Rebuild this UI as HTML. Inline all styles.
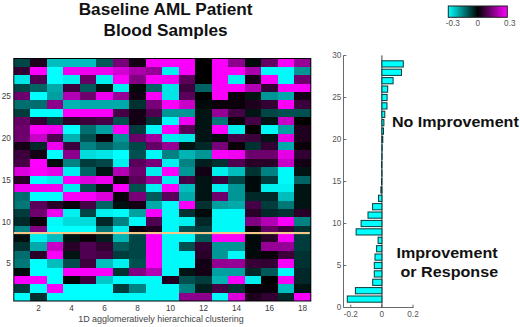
<!DOCTYPE html>
<html><head><meta charset="utf-8"><style>
html,body{margin:0;padding:0;background:#fff;width:520px;height:327px;overflow:hidden}
svg{display:block}
text{font-family:"Liberation Sans",sans-serif}
.tk{font-size:8.2px;fill:#3c3c3c}
.ti{font-size:17.2px;font-weight:bold;fill:#111}
.lb{font-size:15px;font-weight:bold;fill:#111}
.xl{font-size:8.95px;fill:#444}
</style></head><body>
<svg width="520" height="327" viewBox="0 0 520 327">
<defs><linearGradient id="cb" x1="0" x2="1" y1="0" y2="0">
<stop offset="0" stop-color="#00ffff"/><stop offset="0.5" stop-color="#000000"/><stop offset="1" stop-color="#ff00ff"/>
</linearGradient></defs>
<text x="165.6" y="15.2" text-anchor="middle" class="ti">Baseline AML Patient</text>
<text x="165.6" y="36.0" text-anchor="middle" class="ti">Blood Samples</text>
<g shape-rendering="crispEdges">
<rect x="13.80" y="58.50" width="16.55" height="8.41" fill="#004646"/><rect x="30.30" y="58.50" width="16.55" height="8.41" fill="#1e001e"/><rect x="46.80" y="58.50" width="16.55" height="8.41" fill="#00bebe"/><rect x="63.30" y="58.50" width="16.55" height="8.41" fill="#00bebe"/><rect x="79.80" y="58.50" width="16.55" height="8.41" fill="#00bebe"/><rect x="96.30" y="58.50" width="16.55" height="8.41" fill="#005a5a"/><rect x="112.80" y="58.50" width="16.55" height="8.41" fill="#780078"/><rect x="129.30" y="58.50" width="16.55" height="8.41" fill="#140014"/><rect x="145.80" y="58.50" width="16.55" height="8.41" fill="#fa00fa"/><rect x="162.30" y="58.50" width="16.55" height="8.41" fill="#fa00fa"/><rect x="178.80" y="58.50" width="16.55" height="8.41" fill="#fa00fa"/><rect x="195.30" y="58.50" width="16.55" height="8.41" fill="#000000"/><rect x="211.80" y="58.50" width="16.55" height="8.41" fill="#fa00fa"/><rect x="228.30" y="58.50" width="16.55" height="8.41" fill="#8c008c"/><rect x="244.80" y="58.50" width="16.55" height="8.41" fill="#000a0a"/><rect x="261.30" y="58.50" width="16.55" height="8.41" fill="#640064"/><rect x="277.80" y="58.50" width="16.55" height="8.41" fill="#fa00fa"/><rect x="294.30" y="58.50" width="16.55" height="8.41" fill="#960096"/><rect x="13.80" y="66.86" width="16.55" height="8.41" fill="#320032"/><rect x="30.30" y="66.86" width="16.55" height="8.41" fill="#ff00ff"/><rect x="46.80" y="66.86" width="16.55" height="8.41" fill="#00ffff"/><rect x="63.30" y="66.86" width="16.55" height="8.41" fill="#f000f0"/><rect x="79.80" y="66.86" width="16.55" height="8.41" fill="#f000f0"/><rect x="96.30" y="66.86" width="16.55" height="8.41" fill="#f000f0"/><rect x="112.80" y="66.86" width="16.55" height="8.41" fill="#d200d2"/><rect x="129.30" y="66.86" width="16.55" height="8.41" fill="#aa00aa"/><rect x="145.80" y="66.86" width="16.55" height="8.41" fill="#960096"/><rect x="162.30" y="66.86" width="16.55" height="8.41" fill="#00f0f0"/><rect x="178.80" y="66.86" width="16.55" height="8.41" fill="#fa00fa"/><rect x="195.30" y="66.86" width="16.55" height="8.41" fill="#000000"/><rect x="211.80" y="66.86" width="16.55" height="8.41" fill="#fa00fa"/><rect x="228.30" y="66.86" width="16.55" height="8.41" fill="#fa00fa"/><rect x="244.80" y="66.86" width="16.55" height="8.41" fill="#aa00aa"/><rect x="261.30" y="66.86" width="16.55" height="8.41" fill="#00fafa"/><rect x="277.80" y="66.86" width="16.55" height="8.41" fill="#00fafa"/><rect x="294.30" y="66.86" width="16.55" height="8.41" fill="#009696"/><rect x="13.80" y="75.22" width="16.55" height="8.41" fill="#00e6e6"/><rect x="30.30" y="75.22" width="16.55" height="8.41" fill="#500050"/><rect x="46.80" y="75.22" width="16.55" height="8.41" fill="#00ffff"/><rect x="63.30" y="75.22" width="16.55" height="8.41" fill="#00f0f0"/><rect x="79.80" y="75.22" width="16.55" height="8.41" fill="#640064"/><rect x="96.30" y="75.22" width="16.55" height="8.41" fill="#00f0f0"/><rect x="112.80" y="75.22" width="16.55" height="8.41" fill="#fa00fa"/><rect x="129.30" y="75.22" width="16.55" height="8.41" fill="#820082"/><rect x="145.80" y="75.22" width="16.55" height="8.41" fill="#fa00fa"/><rect x="162.30" y="75.22" width="16.55" height="8.41" fill="#f000f0"/><rect x="178.80" y="75.22" width="16.55" height="8.41" fill="#5a005a"/><rect x="195.30" y="75.22" width="16.55" height="8.41" fill="#000000"/><rect x="211.80" y="75.22" width="16.55" height="8.41" fill="#fa00fa"/><rect x="228.30" y="75.22" width="16.55" height="8.41" fill="#00f0f0"/><rect x="244.80" y="75.22" width="16.55" height="8.41" fill="#140014"/><rect x="261.30" y="75.22" width="16.55" height="8.41" fill="#fa00fa"/><rect x="277.80" y="75.22" width="16.55" height="8.41" fill="#00fafa"/><rect x="294.30" y="75.22" width="16.55" height="8.41" fill="#6e006e"/><rect x="13.80" y="83.59" width="16.55" height="8.41" fill="#004646"/><rect x="30.30" y="83.59" width="16.55" height="8.41" fill="#006464"/><rect x="46.80" y="83.59" width="16.55" height="8.41" fill="#00aaaa"/><rect x="63.30" y="83.59" width="16.55" height="8.41" fill="#3c003c"/><rect x="79.80" y="83.59" width="16.55" height="8.41" fill="#005a5a"/><rect x="96.30" y="83.59" width="16.55" height="8.41" fill="#001414"/><rect x="112.80" y="83.59" width="16.55" height="8.41" fill="#00f0f0"/><rect x="129.30" y="83.59" width="16.55" height="8.41" fill="#000a0a"/><rect x="145.80" y="83.59" width="16.55" height="8.41" fill="#006464"/><rect x="162.30" y="83.59" width="16.55" height="8.41" fill="#00e6e6"/><rect x="178.80" y="83.59" width="16.55" height="8.41" fill="#3c003c"/><rect x="195.30" y="83.59" width="16.55" height="8.41" fill="#006464"/><rect x="211.80" y="83.59" width="16.55" height="8.41" fill="#fa00fa"/><rect x="228.30" y="83.59" width="16.55" height="8.41" fill="#fa00fa"/><rect x="244.80" y="83.59" width="16.55" height="8.41" fill="#b400b4"/><rect x="261.30" y="83.59" width="16.55" height="8.41" fill="#320032"/><rect x="277.80" y="83.59" width="16.55" height="8.41" fill="#fa00fa"/><rect x="294.30" y="83.59" width="16.55" height="8.41" fill="#fa00fa"/><rect x="13.80" y="91.95" width="16.55" height="8.41" fill="#6e006e"/><rect x="30.30" y="91.95" width="16.55" height="8.41" fill="#00ffff"/><rect x="46.80" y="91.95" width="16.55" height="8.41" fill="#00a0a0"/><rect x="63.30" y="91.95" width="16.55" height="8.41" fill="#b400b4"/><rect x="79.80" y="91.95" width="16.55" height="8.41" fill="#6e006e"/><rect x="96.30" y="91.95" width="16.55" height="8.41" fill="#f000f0"/><rect x="112.80" y="91.95" width="16.55" height="8.41" fill="#960096"/><rect x="129.30" y="91.95" width="16.55" height="8.41" fill="#140014"/><rect x="145.80" y="91.95" width="16.55" height="8.41" fill="#fa00fa"/><rect x="162.30" y="91.95" width="16.55" height="8.41" fill="#00e6e6"/><rect x="178.80" y="91.95" width="16.55" height="8.41" fill="#5a005a"/><rect x="195.30" y="91.95" width="16.55" height="8.41" fill="#000000"/><rect x="211.80" y="91.95" width="16.55" height="8.41" fill="#fa00fa"/><rect x="228.30" y="91.95" width="16.55" height="8.41" fill="#0a000a"/><rect x="244.80" y="91.95" width="16.55" height="8.41" fill="#001414"/><rect x="261.30" y="91.95" width="16.55" height="8.41" fill="#009696"/><rect x="277.80" y="91.95" width="16.55" height="8.41" fill="#00aaaa"/><rect x="294.30" y="91.95" width="16.55" height="8.41" fill="#140014"/><rect x="13.80" y="100.31" width="16.55" height="8.41" fill="#006e6e"/><rect x="30.30" y="100.31" width="16.55" height="8.41" fill="#006e6e"/><rect x="46.80" y="100.31" width="16.55" height="8.41" fill="#8c008c"/><rect x="63.30" y="100.31" width="16.55" height="8.41" fill="#00b4b4"/><rect x="79.80" y="100.31" width="16.55" height="8.41" fill="#00aaaa"/><rect x="96.30" y="100.31" width="16.55" height="8.41" fill="#00aaaa"/><rect x="112.80" y="100.31" width="16.55" height="8.41" fill="#00aaaa"/><rect x="129.30" y="100.31" width="16.55" height="8.41" fill="#003232"/><rect x="145.80" y="100.31" width="16.55" height="8.41" fill="#780078"/><rect x="162.30" y="100.31" width="16.55" height="8.41" fill="#fa00fa"/><rect x="178.80" y="100.31" width="16.55" height="8.41" fill="#c800c8"/><rect x="195.30" y="100.31" width="16.55" height="8.41" fill="#000a0a"/><rect x="211.80" y="100.31" width="16.55" height="8.41" fill="#0a000a"/><rect x="228.30" y="100.31" width="16.55" height="8.41" fill="#0a000a"/><rect x="244.80" y="100.31" width="16.55" height="8.41" fill="#1e001e"/><rect x="261.30" y="100.31" width="16.55" height="8.41" fill="#320032"/><rect x="277.80" y="100.31" width="16.55" height="8.41" fill="#fa00fa"/><rect x="294.30" y="100.31" width="16.55" height="8.41" fill="#3c003c"/><rect x="13.80" y="108.67" width="16.55" height="8.41" fill="#003c3c"/><rect x="30.30" y="108.67" width="16.55" height="8.41" fill="#00ffff"/><rect x="46.80" y="108.67" width="16.55" height="8.41" fill="#00ffff"/><rect x="63.30" y="108.67" width="16.55" height="8.41" fill="#fa00fa"/><rect x="79.80" y="108.67" width="16.55" height="8.41" fill="#fa00fa"/><rect x="96.30" y="108.67" width="16.55" height="8.41" fill="#fa00fa"/><rect x="112.80" y="108.67" width="16.55" height="8.41" fill="#460046"/><rect x="129.30" y="108.67" width="16.55" height="8.41" fill="#140014"/><rect x="145.80" y="108.67" width="16.55" height="8.41" fill="#500050"/><rect x="162.30" y="108.67" width="16.55" height="8.41" fill="#009696"/><rect x="178.80" y="108.67" width="16.55" height="8.41" fill="#009696"/><rect x="195.30" y="108.67" width="16.55" height="8.41" fill="#001414"/><rect x="211.80" y="108.67" width="16.55" height="8.41" fill="#960096"/><rect x="228.30" y="108.67" width="16.55" height="8.41" fill="#460046"/><rect x="244.80" y="108.67" width="16.55" height="8.41" fill="#001414"/><rect x="261.30" y="108.67" width="16.55" height="8.41" fill="#004646"/><rect x="277.80" y="108.67" width="16.55" height="8.41" fill="#005050"/><rect x="294.30" y="108.67" width="16.55" height="8.41" fill="#005050"/><rect x="13.80" y="117.03" width="16.55" height="8.41" fill="#640064"/><rect x="30.30" y="117.03" width="16.55" height="8.41" fill="#320032"/><rect x="46.80" y="117.03" width="16.55" height="8.41" fill="#003c3c"/><rect x="63.30" y="117.03" width="16.55" height="8.41" fill="#280028"/><rect x="79.80" y="117.03" width="16.55" height="8.41" fill="#3c003c"/><rect x="96.30" y="117.03" width="16.55" height="8.41" fill="#460046"/><rect x="112.80" y="117.03" width="16.55" height="8.41" fill="#005050"/><rect x="129.30" y="117.03" width="16.55" height="8.41" fill="#140014"/><rect x="145.80" y="117.03" width="16.55" height="8.41" fill="#003232"/><rect x="162.30" y="117.03" width="16.55" height="8.41" fill="#00fafa"/><rect x="178.80" y="117.03" width="16.55" height="8.41" fill="#f000f0"/><rect x="195.30" y="117.03" width="16.55" height="8.41" fill="#001414"/><rect x="211.80" y="117.03" width="16.55" height="8.41" fill="#007878"/><rect x="228.30" y="117.03" width="16.55" height="8.41" fill="#0a000a"/><rect x="244.80" y="117.03" width="16.55" height="8.41" fill="#460046"/><rect x="261.30" y="117.03" width="16.55" height="8.41" fill="#001414"/><rect x="277.80" y="117.03" width="16.55" height="8.41" fill="#c800c8"/><rect x="294.30" y="117.03" width="16.55" height="8.41" fill="#000000"/><rect x="13.80" y="125.40" width="16.55" height="8.41" fill="#6e006e"/><rect x="30.30" y="125.40" width="16.55" height="8.41" fill="#fa00fa"/><rect x="46.80" y="125.40" width="16.55" height="8.41" fill="#f000f0"/><rect x="63.30" y="125.40" width="16.55" height="8.41" fill="#00ffff"/><rect x="79.80" y="125.40" width="16.55" height="8.41" fill="#006e6e"/><rect x="96.30" y="125.40" width="16.55" height="8.41" fill="#00a0a0"/><rect x="112.80" y="125.40" width="16.55" height="8.41" fill="#fa00fa"/><rect x="129.30" y="125.40" width="16.55" height="8.41" fill="#003c3c"/><rect x="145.80" y="125.40" width="16.55" height="8.41" fill="#00fafa"/><rect x="162.30" y="125.40" width="16.55" height="8.41" fill="#fa00fa"/><rect x="178.80" y="125.40" width="16.55" height="8.41" fill="#5a005a"/><rect x="195.30" y="125.40" width="16.55" height="8.41" fill="#001414"/><rect x="211.80" y="125.40" width="16.55" height="8.41" fill="#fa00fa"/><rect x="228.30" y="125.40" width="16.55" height="8.41" fill="#00f0f0"/><rect x="244.80" y="125.40" width="16.55" height="8.41" fill="#000000"/><rect x="261.30" y="125.40" width="16.55" height="8.41" fill="#00fafa"/><rect x="277.80" y="125.40" width="16.55" height="8.41" fill="#00a0a0"/><rect x="294.30" y="125.40" width="16.55" height="8.41" fill="#1e001e"/><rect x="13.80" y="133.76" width="16.55" height="8.41" fill="#6e006e"/><rect x="30.30" y="133.76" width="16.55" height="8.41" fill="#c800c8"/><rect x="46.80" y="133.76" width="16.55" height="8.41" fill="#500050"/><rect x="63.30" y="133.76" width="16.55" height="8.41" fill="#00b4b4"/><rect x="79.80" y="133.76" width="16.55" height="8.41" fill="#005050"/><rect x="96.30" y="133.76" width="16.55" height="8.41" fill="#0a000a"/><rect x="112.80" y="133.76" width="16.55" height="8.41" fill="#009696"/><rect x="129.30" y="133.76" width="16.55" height="8.41" fill="#6e006e"/><rect x="145.80" y="133.76" width="16.55" height="8.41" fill="#a000a0"/><rect x="162.30" y="133.76" width="16.55" height="8.41" fill="#00f0f0"/><rect x="178.80" y="133.76" width="16.55" height="8.41" fill="#00e6e6"/><rect x="195.30" y="133.76" width="16.55" height="8.41" fill="#001414"/><rect x="211.80" y="133.76" width="16.55" height="8.41" fill="#000a0a"/><rect x="228.30" y="133.76" width="16.55" height="8.41" fill="#460046"/><rect x="244.80" y="133.76" width="16.55" height="8.41" fill="#3c003c"/><rect x="261.30" y="133.76" width="16.55" height="8.41" fill="#001414"/><rect x="277.80" y="133.76" width="16.55" height="8.41" fill="#e600e6"/><rect x="294.30" y="133.76" width="16.55" height="8.41" fill="#1e001e"/><rect x="13.80" y="142.12" width="16.55" height="8.41" fill="#140014"/><rect x="30.30" y="142.12" width="16.55" height="8.41" fill="#002828"/><rect x="46.80" y="142.12" width="16.55" height="8.41" fill="#f000f0"/><rect x="63.30" y="142.12" width="16.55" height="8.41" fill="#3c003c"/><rect x="79.80" y="142.12" width="16.55" height="8.41" fill="#008282"/><rect x="96.30" y="142.12" width="16.55" height="8.41" fill="#006464"/><rect x="112.80" y="142.12" width="16.55" height="8.41" fill="#008282"/><rect x="129.30" y="142.12" width="16.55" height="8.41" fill="#004646"/><rect x="145.80" y="142.12" width="16.55" height="8.41" fill="#640064"/><rect x="162.30" y="142.12" width="16.55" height="8.41" fill="#960096"/><rect x="178.80" y="142.12" width="16.55" height="8.41" fill="#001414"/><rect x="195.30" y="142.12" width="16.55" height="8.41" fill="#002828"/><rect x="211.80" y="142.12" width="16.55" height="8.41" fill="#780078"/><rect x="228.30" y="142.12" width="16.55" height="8.41" fill="#0a000a"/><rect x="244.80" y="142.12" width="16.55" height="8.41" fill="#003232"/><rect x="261.30" y="142.12" width="16.55" height="8.41" fill="#320032"/><rect x="277.80" y="142.12" width="16.55" height="8.41" fill="#00aaaa"/><rect x="294.30" y="142.12" width="16.55" height="8.41" fill="#0a000a"/><rect x="13.80" y="150.48" width="16.55" height="8.41" fill="#3c003c"/><rect x="30.30" y="150.48" width="16.55" height="8.41" fill="#140014"/><rect x="46.80" y="150.48" width="16.55" height="8.41" fill="#00ffff"/><rect x="63.30" y="150.48" width="16.55" height="8.41" fill="#8c008c"/><rect x="79.80" y="150.48" width="16.55" height="8.41" fill="#00dcdc"/><rect x="96.30" y="150.48" width="16.55" height="8.41" fill="#00e6e6"/><rect x="112.80" y="150.48" width="16.55" height="8.41" fill="#00ffff"/><rect x="129.30" y="150.48" width="16.55" height="8.41" fill="#005050"/><rect x="145.80" y="150.48" width="16.55" height="8.41" fill="#00fafa"/><rect x="162.30" y="150.48" width="16.55" height="8.41" fill="#008282"/><rect x="178.80" y="150.48" width="16.55" height="8.41" fill="#00b4b4"/><rect x="195.30" y="150.48" width="16.55" height="8.41" fill="#009696"/><rect x="211.80" y="150.48" width="16.55" height="8.41" fill="#fa00fa"/><rect x="228.30" y="150.48" width="16.55" height="8.41" fill="#f000f0"/><rect x="244.80" y="150.48" width="16.55" height="8.41" fill="#6e006e"/><rect x="261.30" y="150.48" width="16.55" height="8.41" fill="#6e006e"/><rect x="277.80" y="150.48" width="16.55" height="8.41" fill="#e600e6"/><rect x="294.30" y="150.48" width="16.55" height="8.41" fill="#320032"/><rect x="13.80" y="158.84" width="16.55" height="8.41" fill="#460046"/><rect x="30.30" y="158.84" width="16.55" height="8.41" fill="#ff00ff"/><rect x="46.80" y="158.84" width="16.55" height="8.41" fill="#000a0a"/><rect x="63.30" y="158.84" width="16.55" height="8.41" fill="#008282"/><rect x="79.80" y="158.84" width="16.55" height="8.41" fill="#003c3c"/><rect x="96.30" y="158.84" width="16.55" height="8.41" fill="#004646"/><rect x="112.80" y="158.84" width="16.55" height="8.41" fill="#00f0f0"/><rect x="129.30" y="158.84" width="16.55" height="8.41" fill="#5a005a"/><rect x="145.80" y="158.84" width="16.55" height="8.41" fill="#780078"/><rect x="162.30" y="158.84" width="16.55" height="8.41" fill="#00f0f0"/><rect x="178.80" y="158.84" width="16.55" height="8.41" fill="#008282"/><rect x="195.30" y="158.84" width="16.55" height="8.41" fill="#001e1e"/><rect x="211.80" y="158.84" width="16.55" height="8.41" fill="#003232"/><rect x="228.30" y="158.84" width="16.55" height="8.41" fill="#500050"/><rect x="244.80" y="158.84" width="16.55" height="8.41" fill="#280028"/><rect x="261.30" y="158.84" width="16.55" height="8.41" fill="#280028"/><rect x="277.80" y="158.84" width="16.55" height="8.41" fill="#c800c8"/><rect x="294.30" y="158.84" width="16.55" height="8.41" fill="#140014"/><rect x="13.80" y="167.21" width="16.55" height="8.41" fill="#dc00dc"/><rect x="30.30" y="167.21" width="16.55" height="8.41" fill="#fa00fa"/><rect x="46.80" y="167.21" width="16.55" height="8.41" fill="#e600e6"/><rect x="63.30" y="167.21" width="16.55" height="8.41" fill="#00f0f0"/><rect x="79.80" y="167.21" width="16.55" height="8.41" fill="#006464"/><rect x="96.30" y="167.21" width="16.55" height="8.41" fill="#001414"/><rect x="112.80" y="167.21" width="16.55" height="8.41" fill="#b400b4"/><rect x="129.30" y="167.21" width="16.55" height="8.41" fill="#6e006e"/><rect x="145.80" y="167.21" width="16.55" height="8.41" fill="#00f0f0"/><rect x="162.30" y="167.21" width="16.55" height="8.41" fill="#fa00fa"/><rect x="178.80" y="167.21" width="16.55" height="8.41" fill="#009696"/><rect x="195.30" y="167.21" width="16.55" height="8.41" fill="#140014"/><rect x="211.80" y="167.21" width="16.55" height="8.41" fill="#00f0f0"/><rect x="228.30" y="167.21" width="16.55" height="8.41" fill="#00bebe"/><rect x="244.80" y="167.21" width="16.55" height="8.41" fill="#003232"/><rect x="261.30" y="167.21" width="16.55" height="8.41" fill="#008282"/><rect x="277.80" y="167.21" width="16.55" height="8.41" fill="#00fafa"/><rect x="294.30" y="167.21" width="16.55" height="8.41" fill="#001414"/><rect x="13.80" y="175.57" width="16.55" height="8.41" fill="#280028"/><rect x="30.30" y="175.57" width="16.55" height="8.41" fill="#00ffff"/><rect x="46.80" y="175.57" width="16.55" height="8.41" fill="#00f0f0"/><rect x="63.30" y="175.57" width="16.55" height="8.41" fill="#fa00fa"/><rect x="79.80" y="175.57" width="16.55" height="8.41" fill="#dc00dc"/><rect x="96.30" y="175.57" width="16.55" height="8.41" fill="#f000f0"/><rect x="112.80" y="175.57" width="16.55" height="8.41" fill="#0a000a"/><rect x="129.30" y="175.57" width="16.55" height="8.41" fill="#5a005a"/><rect x="145.80" y="175.57" width="16.55" height="8.41" fill="#960096"/><rect x="162.30" y="175.57" width="16.55" height="8.41" fill="#00f0f0"/><rect x="178.80" y="175.57" width="16.55" height="8.41" fill="#460046"/><rect x="195.30" y="175.57" width="16.55" height="8.41" fill="#001414"/><rect x="211.80" y="175.57" width="16.55" height="8.41" fill="#3c003c"/><rect x="228.30" y="175.57" width="16.55" height="8.41" fill="#004646"/><rect x="244.80" y="175.57" width="16.55" height="8.41" fill="#000a0a"/><rect x="261.30" y="175.57" width="16.55" height="8.41" fill="#003c3c"/><rect x="277.80" y="175.57" width="16.55" height="8.41" fill="#00fafa"/><rect x="294.30" y="175.57" width="16.55" height="8.41" fill="#006464"/><rect x="13.80" y="183.93" width="16.55" height="8.41" fill="#f000f0"/><rect x="30.30" y="183.93" width="16.55" height="8.41" fill="#f000f0"/><rect x="46.80" y="183.93" width="16.55" height="8.41" fill="#f000f0"/><rect x="63.30" y="183.93" width="16.55" height="8.41" fill="#00f0f0"/><rect x="79.80" y="183.93" width="16.55" height="8.41" fill="#005050"/><rect x="96.30" y="183.93" width="16.55" height="8.41" fill="#001414"/><rect x="112.80" y="183.93" width="16.55" height="8.41" fill="#fa00fa"/><rect x="129.30" y="183.93" width="16.55" height="8.41" fill="#005050"/><rect x="145.80" y="183.93" width="16.55" height="8.41" fill="#00f0f0"/><rect x="162.30" y="183.93" width="16.55" height="8.41" fill="#fa00fa"/><rect x="178.80" y="183.93" width="16.55" height="8.41" fill="#00bebe"/><rect x="195.30" y="183.93" width="16.55" height="8.41" fill="#001414"/><rect x="211.80" y="183.93" width="16.55" height="8.41" fill="#00f0f0"/><rect x="228.30" y="183.93" width="16.55" height="8.41" fill="#009696"/><rect x="244.80" y="183.93" width="16.55" height="8.41" fill="#000a0a"/><rect x="261.30" y="183.93" width="16.55" height="8.41" fill="#00f0f0"/><rect x="277.80" y="183.93" width="16.55" height="8.41" fill="#00f0f0"/><rect x="294.30" y="183.93" width="16.55" height="8.41" fill="#001414"/><rect x="13.80" y="192.29" width="16.55" height="8.41" fill="#006e6e"/><rect x="30.30" y="192.29" width="16.55" height="8.41" fill="#00ffff"/><rect x="46.80" y="192.29" width="16.55" height="8.41" fill="#00ffff"/><rect x="63.30" y="192.29" width="16.55" height="8.41" fill="#fa00fa"/><rect x="79.80" y="192.29" width="16.55" height="8.41" fill="#fa00fa"/><rect x="96.30" y="192.29" width="16.55" height="8.41" fill="#dc00dc"/><rect x="112.80" y="192.29" width="16.55" height="8.41" fill="#0a000a"/><rect x="129.30" y="192.29" width="16.55" height="8.41" fill="#780078"/><rect x="145.80" y="192.29" width="16.55" height="8.41" fill="#005a5a"/><rect x="162.30" y="192.29" width="16.55" height="8.41" fill="#5a005a"/><rect x="178.80" y="192.29" width="16.55" height="8.41" fill="#00aaaa"/><rect x="195.30" y="192.29" width="16.55" height="8.41" fill="#001414"/><rect x="211.80" y="192.29" width="16.55" height="8.41" fill="#6e006e"/><rect x="228.30" y="192.29" width="16.55" height="8.41" fill="#009696"/><rect x="244.80" y="192.29" width="16.55" height="8.41" fill="#002828"/><rect x="261.30" y="192.29" width="16.55" height="8.41" fill="#002828"/><rect x="277.80" y="192.29" width="16.55" height="8.41" fill="#00bebe"/><rect x="294.30" y="192.29" width="16.55" height="8.41" fill="#001414"/><rect x="13.80" y="200.66" width="16.55" height="8.41" fill="#007878"/><rect x="30.30" y="200.66" width="16.55" height="8.41" fill="#5a005a"/><rect x="46.80" y="200.66" width="16.55" height="8.41" fill="#280028"/><rect x="63.30" y="200.66" width="16.55" height="8.41" fill="#0a000a"/><rect x="79.80" y="200.66" width="16.55" height="8.41" fill="#460046"/><rect x="96.30" y="200.66" width="16.55" height="8.41" fill="#006464"/><rect x="112.80" y="200.66" width="16.55" height="8.41" fill="#000f0f"/><rect x="129.30" y="200.66" width="16.55" height="8.41" fill="#140014"/><rect x="145.80" y="200.66" width="16.55" height="8.41" fill="#00aaaa"/><rect x="162.30" y="200.66" width="16.55" height="8.41" fill="#00fafa"/><rect x="178.80" y="200.66" width="16.55" height="8.41" fill="#fa00fa"/><rect x="195.30" y="200.66" width="16.55" height="8.41" fill="#003232"/><rect x="211.80" y="200.66" width="16.55" height="8.41" fill="#00a0a0"/><rect x="228.30" y="200.66" width="16.55" height="8.41" fill="#00aaaa"/><rect x="244.80" y="200.66" width="16.55" height="8.41" fill="#460046"/><rect x="261.30" y="200.66" width="16.55" height="8.41" fill="#003c3c"/><rect x="277.80" y="200.66" width="16.55" height="8.41" fill="#007878"/><rect x="294.30" y="200.66" width="16.55" height="8.41" fill="#001414"/><rect x="13.80" y="209.02" width="16.55" height="8.41" fill="#003c3c"/><rect x="30.30" y="209.02" width="16.55" height="8.41" fill="#6e006e"/><rect x="46.80" y="209.02" width="16.55" height="8.41" fill="#f000f0"/><rect x="63.30" y="209.02" width="16.55" height="8.41" fill="#00f0f0"/><rect x="79.80" y="209.02" width="16.55" height="8.41" fill="#004646"/><rect x="96.30" y="209.02" width="16.55" height="8.41" fill="#00f0f0"/><rect x="112.80" y="209.02" width="16.55" height="8.41" fill="#00fafa"/><rect x="129.30" y="209.02" width="16.55" height="8.41" fill="#00a0a0"/><rect x="145.80" y="209.02" width="16.55" height="8.41" fill="#fa00fa"/><rect x="162.30" y="209.02" width="16.55" height="8.41" fill="#00fafa"/><rect x="178.80" y="209.02" width="16.55" height="8.41" fill="#003232"/><rect x="195.30" y="209.02" width="16.55" height="8.41" fill="#000a0a"/><rect x="211.80" y="209.02" width="16.55" height="8.41" fill="#00fafa"/><rect x="228.30" y="209.02" width="16.55" height="8.41" fill="#00fafa"/><rect x="244.80" y="209.02" width="16.55" height="8.41" fill="#280028"/><rect x="261.30" y="209.02" width="16.55" height="8.41" fill="#002828"/><rect x="277.80" y="209.02" width="16.55" height="8.41" fill="#003232"/><rect x="294.30" y="209.02" width="16.55" height="8.41" fill="#280028"/><rect x="13.80" y="217.38" width="16.55" height="8.41" fill="#002828"/><rect x="30.30" y="217.38" width="16.55" height="8.41" fill="#0a000a"/><rect x="46.80" y="217.38" width="16.55" height="8.41" fill="#00fafa"/><rect x="63.30" y="217.38" width="16.55" height="8.41" fill="#00dcdc"/><rect x="79.80" y="217.38" width="16.55" height="8.41" fill="#00dcdc"/><rect x="96.30" y="217.38" width="16.55" height="8.41" fill="#002828"/><rect x="112.80" y="217.38" width="16.55" height="8.41" fill="#008282"/><rect x="129.30" y="217.38" width="16.55" height="8.41" fill="#00fafa"/><rect x="145.80" y="217.38" width="16.55" height="8.41" fill="#500050"/><rect x="162.30" y="217.38" width="16.55" height="8.41" fill="#00fafa"/><rect x="178.80" y="217.38" width="16.55" height="8.41" fill="#00f0f0"/><rect x="195.30" y="217.38" width="16.55" height="8.41" fill="#002828"/><rect x="211.80" y="217.38" width="16.55" height="8.41" fill="#00fafa"/><rect x="228.30" y="217.38" width="16.55" height="8.41" fill="#00fafa"/><rect x="244.80" y="217.38" width="16.55" height="8.41" fill="#820082"/><rect x="261.30" y="217.38" width="16.55" height="8.41" fill="#b400b4"/><rect x="277.80" y="217.38" width="16.55" height="8.41" fill="#fa00fa"/><rect x="294.30" y="217.38" width="16.55" height="8.41" fill="#008282"/><rect x="13.80" y="225.74" width="16.55" height="8.41" fill="#008282"/><rect x="30.30" y="225.74" width="16.55" height="8.41" fill="#820082"/><rect x="46.80" y="225.74" width="16.55" height="8.41" fill="#00ffff"/><rect x="63.30" y="225.74" width="16.55" height="8.41" fill="#00ffff"/><rect x="79.80" y="225.74" width="16.55" height="8.41" fill="#00ffff"/><rect x="96.30" y="225.74" width="16.55" height="8.41" fill="#007878"/><rect x="112.80" y="225.74" width="16.55" height="8.41" fill="#00f0f0"/><rect x="129.30" y="225.74" width="16.55" height="8.41" fill="#0a000a"/><rect x="145.80" y="225.74" width="16.55" height="8.41" fill="#1e001e"/><rect x="162.30" y="225.74" width="16.55" height="8.41" fill="#00fafa"/><rect x="178.80" y="225.74" width="16.55" height="8.41" fill="#005050"/><rect x="195.30" y="225.74" width="16.55" height="8.41" fill="#003c3c"/><rect x="211.80" y="225.74" width="16.55" height="8.41" fill="#00fafa"/><rect x="228.30" y="225.74" width="16.55" height="8.41" fill="#00fafa"/><rect x="244.80" y="225.74" width="16.55" height="8.41" fill="#0a000a"/><rect x="261.30" y="225.74" width="16.55" height="8.41" fill="#640064"/><rect x="277.80" y="225.74" width="16.55" height="8.41" fill="#3c003c"/><rect x="294.30" y="225.74" width="16.55" height="8.41" fill="#003232"/><rect x="13.80" y="234.10" width="16.55" height="8.41" fill="#000f0f"/><rect x="30.30" y="234.10" width="16.55" height="8.41" fill="#00f0f0"/><rect x="46.80" y="234.10" width="16.55" height="8.41" fill="#00bebe"/><rect x="63.30" y="234.10" width="16.55" height="8.41" fill="#001414"/><rect x="79.80" y="234.10" width="16.55" height="8.41" fill="#0a000a"/><rect x="96.30" y="234.10" width="16.55" height="8.41" fill="#001e1e"/><rect x="112.80" y="234.10" width="16.55" height="8.41" fill="#00b4b4"/><rect x="129.30" y="234.10" width="16.55" height="8.41" fill="#004646"/><rect x="145.80" y="234.10" width="16.55" height="8.41" fill="#fa00fa"/><rect x="162.30" y="234.10" width="16.55" height="8.41" fill="#00fafa"/><rect x="178.80" y="234.10" width="16.55" height="8.41" fill="#00fafa"/><rect x="195.30" y="234.10" width="16.55" height="8.41" fill="#005a5a"/><rect x="211.80" y="234.10" width="16.55" height="8.41" fill="#fa00fa"/><rect x="228.30" y="234.10" width="16.55" height="8.41" fill="#fa00fa"/><rect x="244.80" y="234.10" width="16.55" height="8.41" fill="#000a0a"/><rect x="261.30" y="234.10" width="16.55" height="8.41" fill="#280028"/><rect x="277.80" y="234.10" width="16.55" height="8.41" fill="#fa00fa"/><rect x="294.30" y="234.10" width="16.55" height="8.41" fill="#003c3c"/><rect x="13.80" y="242.47" width="16.55" height="8.41" fill="#003232"/><rect x="30.30" y="242.47" width="16.55" height="8.41" fill="#00aaaa"/><rect x="46.80" y="242.47" width="16.55" height="8.41" fill="#c800c8"/><rect x="63.30" y="242.47" width="16.55" height="8.41" fill="#280028"/><rect x="79.80" y="242.47" width="16.55" height="8.41" fill="#500050"/><rect x="96.30" y="242.47" width="16.55" height="8.41" fill="#320032"/><rect x="112.80" y="242.47" width="16.55" height="8.41" fill="#005a5a"/><rect x="129.30" y="242.47" width="16.55" height="8.41" fill="#004646"/><rect x="145.80" y="242.47" width="16.55" height="8.41" fill="#fa00fa"/><rect x="162.30" y="242.47" width="16.55" height="8.41" fill="#00fafa"/><rect x="178.80" y="242.47" width="16.55" height="8.41" fill="#005050"/><rect x="195.30" y="242.47" width="16.55" height="8.41" fill="#320032"/><rect x="211.80" y="242.47" width="16.55" height="8.41" fill="#009696"/><rect x="228.30" y="242.47" width="16.55" height="8.41" fill="#009696"/><rect x="244.80" y="242.47" width="16.55" height="8.41" fill="#000a0a"/><rect x="261.30" y="242.47" width="16.55" height="8.41" fill="#960096"/><rect x="277.80" y="242.47" width="16.55" height="8.41" fill="#960096"/><rect x="294.30" y="242.47" width="16.55" height="8.41" fill="#003c3c"/><rect x="13.80" y="250.83" width="16.55" height="8.41" fill="#006e6e"/><rect x="30.30" y="250.83" width="16.55" height="8.41" fill="#280028"/><rect x="46.80" y="250.83" width="16.55" height="8.41" fill="#fa00fa"/><rect x="63.30" y="250.83" width="16.55" height="8.41" fill="#001414"/><rect x="79.80" y="250.83" width="16.55" height="8.41" fill="#500050"/><rect x="96.30" y="250.83" width="16.55" height="8.41" fill="#460046"/><rect x="112.80" y="250.83" width="16.55" height="8.41" fill="#003c3c"/><rect x="129.30" y="250.83" width="16.55" height="8.41" fill="#004646"/><rect x="145.80" y="250.83" width="16.55" height="8.41" fill="#fa00fa"/><rect x="162.30" y="250.83" width="16.55" height="8.41" fill="#00fafa"/><rect x="178.80" y="250.83" width="16.55" height="8.41" fill="#00fafa"/><rect x="195.30" y="250.83" width="16.55" height="8.41" fill="#280028"/><rect x="211.80" y="250.83" width="16.55" height="8.41" fill="#009696"/><rect x="228.30" y="250.83" width="16.55" height="8.41" fill="#00fafa"/><rect x="244.80" y="250.83" width="16.55" height="8.41" fill="#000a0a"/><rect x="261.30" y="250.83" width="16.55" height="8.41" fill="#0a000a"/><rect x="277.80" y="250.83" width="16.55" height="8.41" fill="#3c003c"/><rect x="294.30" y="250.83" width="16.55" height="8.41" fill="#003232"/><rect x="13.80" y="259.19" width="16.55" height="8.41" fill="#007878"/><rect x="30.30" y="259.19" width="16.55" height="8.41" fill="#00ffff"/><rect x="46.80" y="259.19" width="16.55" height="8.41" fill="#00bebe"/><rect x="63.30" y="259.19" width="16.55" height="8.41" fill="#004b4b"/><rect x="79.80" y="259.19" width="16.55" height="8.41" fill="#3c003c"/><rect x="96.30" y="259.19" width="16.55" height="8.41" fill="#00bebe"/><rect x="112.80" y="259.19" width="16.55" height="8.41" fill="#00f0f0"/><rect x="129.30" y="259.19" width="16.55" height="8.41" fill="#005050"/><rect x="145.80" y="259.19" width="16.55" height="8.41" fill="#fa00fa"/><rect x="162.30" y="259.19" width="16.55" height="8.41" fill="#00fafa"/><rect x="178.80" y="259.19" width="16.55" height="8.41" fill="#00fafa"/><rect x="195.30" y="259.19" width="16.55" height="8.41" fill="#140014"/><rect x="211.80" y="259.19" width="16.55" height="8.41" fill="#910091"/><rect x="228.30" y="259.19" width="16.55" height="8.41" fill="#960096"/><rect x="244.80" y="259.19" width="16.55" height="8.41" fill="#370037"/><rect x="261.30" y="259.19" width="16.55" height="8.41" fill="#320032"/><rect x="277.80" y="259.19" width="16.55" height="8.41" fill="#fa00fa"/><rect x="294.30" y="259.19" width="16.55" height="8.41" fill="#003232"/><rect x="13.80" y="267.55" width="16.55" height="8.41" fill="#000a0a"/><rect x="30.30" y="267.55" width="16.55" height="8.41" fill="#00ffff"/><rect x="46.80" y="267.55" width="16.55" height="8.41" fill="#00ffff"/><rect x="63.30" y="267.55" width="16.55" height="8.41" fill="#fa00fa"/><rect x="79.80" y="267.55" width="16.55" height="8.41" fill="#fa00fa"/><rect x="96.30" y="267.55" width="16.55" height="8.41" fill="#fa00fa"/><rect x="112.80" y="267.55" width="16.55" height="8.41" fill="#003232"/><rect x="129.30" y="267.55" width="16.55" height="8.41" fill="#820082"/><rect x="145.80" y="267.55" width="16.55" height="8.41" fill="#b400b4"/><rect x="162.30" y="267.55" width="16.55" height="8.41" fill="#00fafa"/><rect x="178.80" y="267.55" width="16.55" height="8.41" fill="#001414"/><rect x="195.30" y="267.55" width="16.55" height="8.41" fill="#140014"/><rect x="211.80" y="267.55" width="16.55" height="8.41" fill="#00a0a0"/><rect x="228.30" y="267.55" width="16.55" height="8.41" fill="#00a0a0"/><rect x="244.80" y="267.55" width="16.55" height="8.41" fill="#002828"/><rect x="261.30" y="267.55" width="16.55" height="8.41" fill="#005a5a"/><rect x="277.80" y="267.55" width="16.55" height="8.41" fill="#00fafa"/><rect x="294.30" y="267.55" width="16.55" height="8.41" fill="#002828"/><rect x="13.80" y="275.91" width="16.55" height="8.41" fill="#fa00fa"/><rect x="30.30" y="275.91" width="16.55" height="8.41" fill="#fa00fa"/><rect x="46.80" y="275.91" width="16.55" height="8.41" fill="#00ffff"/><rect x="63.30" y="275.91" width="16.55" height="8.41" fill="#000505"/><rect x="79.80" y="275.91" width="16.55" height="8.41" fill="#3c003c"/><rect x="96.30" y="275.91" width="16.55" height="8.41" fill="#00c8c8"/><rect x="112.80" y="275.91" width="16.55" height="8.41" fill="#00fafa"/><rect x="129.30" y="275.91" width="16.55" height="8.41" fill="#00fafa"/><rect x="145.80" y="275.91" width="16.55" height="8.41" fill="#00fafa"/><rect x="162.30" y="275.91" width="16.55" height="8.41" fill="#1e001e"/><rect x="178.80" y="275.91" width="16.55" height="8.41" fill="#005050"/><rect x="195.30" y="275.91" width="16.55" height="8.41" fill="#003c3c"/><rect x="211.80" y="275.91" width="16.55" height="8.41" fill="#00b4b4"/><rect x="228.30" y="275.91" width="16.55" height="8.41" fill="#fa00fa"/><rect x="244.80" y="275.91" width="16.55" height="8.41" fill="#00f0f0"/><rect x="261.30" y="275.91" width="16.55" height="8.41" fill="#000000"/><rect x="277.80" y="275.91" width="16.55" height="8.41" fill="#fa00fa"/><rect x="294.30" y="275.91" width="16.55" height="8.41" fill="#002828"/><rect x="13.80" y="284.28" width="16.55" height="8.41" fill="#003c3c"/><rect x="30.30" y="284.28" width="16.55" height="8.41" fill="#00ffff"/><rect x="46.80" y="284.28" width="16.55" height="8.41" fill="#fa00fa"/><rect x="63.30" y="284.28" width="16.55" height="8.41" fill="#00ffff"/><rect x="79.80" y="284.28" width="16.55" height="8.41" fill="#00ffff"/><rect x="96.30" y="284.28" width="16.55" height="8.41" fill="#00ffff"/><rect x="112.80" y="284.28" width="16.55" height="8.41" fill="#003c3c"/><rect x="129.30" y="284.28" width="16.55" height="8.41" fill="#008282"/><rect x="145.80" y="284.28" width="16.55" height="8.41" fill="#00fafa"/><rect x="162.30" y="284.28" width="16.55" height="8.41" fill="#00fafa"/><rect x="178.80" y="284.28" width="16.55" height="8.41" fill="#008282"/><rect x="195.30" y="284.28" width="16.55" height="8.41" fill="#001e1e"/><rect x="211.80" y="284.28" width="16.55" height="8.41" fill="#460046"/><rect x="228.30" y="284.28" width="16.55" height="8.41" fill="#003232"/><rect x="244.80" y="284.28" width="16.55" height="8.41" fill="#0a000a"/><rect x="261.30" y="284.28" width="16.55" height="8.41" fill="#0a000a"/><rect x="277.80" y="284.28" width="16.55" height="8.41" fill="#00bebe"/><rect x="294.30" y="284.28" width="16.55" height="8.41" fill="#001414"/><rect x="13.80" y="292.64" width="16.55" height="8.41" fill="#00ffff"/><rect x="30.30" y="292.64" width="16.55" height="8.41" fill="#003232"/><rect x="46.80" y="292.64" width="16.55" height="8.41" fill="#00ffff"/><rect x="63.30" y="292.64" width="16.55" height="8.41" fill="#00ffff"/><rect x="79.80" y="292.64" width="16.55" height="8.41" fill="#00ffff"/><rect x="96.30" y="292.64" width="16.55" height="8.41" fill="#00ffff"/><rect x="112.80" y="292.64" width="16.55" height="8.41" fill="#00fafa"/><rect x="129.30" y="292.64" width="16.55" height="8.41" fill="#00fafa"/><rect x="145.80" y="292.64" width="16.55" height="8.41" fill="#00fafa"/><rect x="162.30" y="292.64" width="16.55" height="8.41" fill="#00fafa"/><rect x="178.80" y="292.64" width="16.55" height="8.41" fill="#8c008c"/><rect x="195.30" y="292.64" width="16.55" height="8.41" fill="#8c008c"/><rect x="211.80" y="292.64" width="16.55" height="8.41" fill="#00fafa"/><rect x="228.30" y="292.64" width="16.55" height="8.41" fill="#dc00dc"/><rect x="244.80" y="292.64" width="16.55" height="8.41" fill="#1e001e"/><rect x="261.30" y="292.64" width="16.55" height="8.41" fill="#320032"/><rect x="277.80" y="292.64" width="16.55" height="8.41" fill="#002828"/><rect x="294.30" y="292.64" width="16.55" height="8.41" fill="#fa00fa"/>
</g>
<rect x="13.8" y="58.5" width="297.00" height="242.50" fill="none" stroke="#000" stroke-width="1"/>
<rect x="13.8" y="232.0" width="296.00" height="2.1" fill="#f5c88c"/>
<text x="10.8" y="266.47" text-anchor="end" class="tk">5</text><text x="10.8" y="224.66" text-anchor="end" class="tk">10</text><text x="10.8" y="182.85" text-anchor="end" class="tk">15</text><text x="10.8" y="141.04" text-anchor="end" class="tk">20</text><text x="10.8" y="99.23" text-anchor="end" class="tk">25</text><text x="38.55" y="310.6" text-anchor="middle" class="tk">2</text><text x="71.55" y="310.6" text-anchor="middle" class="tk">4</text><text x="104.55" y="310.6" text-anchor="middle" class="tk">6</text><text x="137.55" y="310.6" text-anchor="middle" class="tk">8</text><text x="170.55" y="310.6" text-anchor="middle" class="tk">10</text><text x="203.55" y="310.6" text-anchor="middle" class="tk">12</text><text x="236.55" y="310.6" text-anchor="middle" class="tk">14</text><text x="269.55" y="310.6" text-anchor="middle" class="tk">16</text><text x="302.55" y="310.6" text-anchor="middle" class="tk">18</text><text x="341.4" y="310.40" text-anchor="end" class="tk" style="fill:#555">0</text><text x="341.4" y="268.40" text-anchor="end" class="tk" style="fill:#555">5</text><text x="341.4" y="226.40" text-anchor="end" class="tk" style="fill:#555">10</text><text x="341.4" y="184.40" text-anchor="end" class="tk" style="fill:#555">15</text><text x="341.4" y="142.40" text-anchor="end" class="tk" style="fill:#555">20</text><text x="341.4" y="100.40" text-anchor="end" class="tk" style="fill:#555">25</text><text x="341.4" y="58.40" text-anchor="end" class="tk" style="fill:#555">30</text><text x="350.80" y="317.0" text-anchor="middle" class="tk" style="fill:#555">-0.2</text><text x="381.90" y="317.0" text-anchor="middle" class="tk" style="fill:#555">0</text><text x="413.00" y="317.0" text-anchor="middle" class="tk" style="fill:#555">0.2</text>
<text x="78.2" y="321.8" class="xl">1D agglomeratively hierarchical clustering</text>
<line x1="343.5" y1="55.4" x2="343.5" y2="307.5" stroke="#6a6a6a" stroke-width="1"/><line x1="343.5" y1="307.5" x2="413.7" y2="307.5" stroke="#6a6a6a" stroke-width="1"/><line x1="343.5" y1="307.50" x2="346.3" y2="307.50" stroke="#6a6a6a" stroke-width="1"/><line x1="343.5" y1="265.50" x2="346.3" y2="265.50" stroke="#6a6a6a" stroke-width="1"/><line x1="343.5" y1="223.50" x2="346.3" y2="223.50" stroke="#6a6a6a" stroke-width="1"/><line x1="343.5" y1="181.50" x2="346.3" y2="181.50" stroke="#6a6a6a" stroke-width="1"/><line x1="343.5" y1="139.50" x2="346.3" y2="139.50" stroke="#6a6a6a" stroke-width="1"/><line x1="343.5" y1="97.50" x2="346.3" y2="97.50" stroke="#6a6a6a" stroke-width="1"/><line x1="343.5" y1="55.50" x2="346.3" y2="55.50" stroke="#6a6a6a" stroke-width="1"/><line x1="350.80" y1="307.5" x2="350.80" y2="304.70" stroke="#6a6a6a" stroke-width="1"/><line x1="381.90" y1="307.5" x2="381.90" y2="304.70" stroke="#6a6a6a" stroke-width="1"/><line x1="413.00" y1="307.5" x2="413.00" y2="304.70" stroke="#6a6a6a" stroke-width="1"/><line x1="381.9" y1="55.4" x2="381.9" y2="307.5" stroke="#404040" stroke-width="1"/>
<rect x="347.30" y="296.00" width="34.60" height="6.20" fill="#00ffff" stroke="#0a3a3a" stroke-width="1"/><rect x="355.40" y="287.60" width="26.50" height="6.20" fill="#00ffff" stroke="#0a3a3a" stroke-width="1"/><rect x="372.70" y="279.20" width="9.20" height="6.20" fill="#00ffff" stroke="#0a3a3a" stroke-width="1"/><rect x="374.30" y="270.80" width="7.60" height="6.20" fill="#00ffff" stroke="#0a3a3a" stroke-width="1"/><rect x="374.30" y="262.40" width="7.60" height="6.20" fill="#00ffff" stroke="#0a3a3a" stroke-width="1"/><rect x="375.00" y="254.00" width="6.90" height="6.20" fill="#00ffff" stroke="#0a3a3a" stroke-width="1"/><rect x="376.60" y="245.60" width="5.30" height="6.20" fill="#00ffff" stroke="#0a3a3a" stroke-width="1"/><rect x="378.10" y="237.20" width="3.80" height="6.20" fill="#00ffff" stroke="#0a3a3a" stroke-width="1"/><rect x="356.10" y="228.80" width="25.80" height="6.20" fill="#00ffff" stroke="#0a3a3a" stroke-width="1"/><rect x="361.10" y="220.40" width="20.80" height="6.20" fill="#00ffff" stroke="#0a3a3a" stroke-width="1"/><rect x="368.00" y="212.00" width="13.90" height="6.20" fill="#00ffff" stroke="#0a3a3a" stroke-width="1"/><rect x="372.60" y="203.60" width="9.30" height="6.20" fill="#00ffff" stroke="#0a3a3a" stroke-width="1"/><rect x="378.50" y="195.20" width="3.40" height="6.20" fill="#00ffff" stroke="#0a3a3a" stroke-width="1"/><rect x="380.90" y="186.80" width="1.00" height="6.20" fill="#00ffff" stroke="#0a3a3a" stroke-width="1"/><rect x="381.50" y="178.40" width="0.40" height="6.20" fill="#00ffff" stroke="#0a3a3a" stroke-width="1"/><rect x="381.70" y="170.00" width="0.30" height="6.20" fill="#00ffff" stroke="#0a3a3a" stroke-width="1"/><rect x="381.50" y="161.60" width="0.40" height="6.20" fill="#00ffff" stroke="#0a3a3a" stroke-width="1"/><rect x="381.80" y="153.20" width="0.30" height="6.20" fill="#00ffff" stroke="#0a3a3a" stroke-width="1"/><rect x="381.90" y="144.80" width="0.30" height="6.20" fill="#00ffff" stroke="#0a3a3a" stroke-width="1"/><rect x="381.90" y="136.40" width="0.90" height="6.20" fill="#00ffff" stroke="#0a3a3a" stroke-width="1"/><rect x="381.90" y="128.00" width="1.60" height="6.20" fill="#00ffff" stroke="#0a3a3a" stroke-width="1"/><rect x="381.90" y="119.60" width="2.00" height="6.20" fill="#00ffff" stroke="#0a3a3a" stroke-width="1"/><rect x="381.90" y="111.20" width="2.90" height="6.20" fill="#00ffff" stroke="#0a3a3a" stroke-width="1"/><rect x="381.90" y="102.80" width="5.10" height="6.20" fill="#00ffff" stroke="#0a3a3a" stroke-width="1"/><rect x="381.90" y="94.40" width="5.20" height="6.20" fill="#00ffff" stroke="#0a3a3a" stroke-width="1"/><rect x="381.90" y="86.00" width="5.80" height="6.20" fill="#00ffff" stroke="#0a3a3a" stroke-width="1"/><rect x="381.90" y="77.60" width="11.20" height="6.20" fill="#00ffff" stroke="#0a3a3a" stroke-width="1"/><rect x="381.90" y="69.20" width="19.60" height="6.20" fill="#00ffff" stroke="#0a3a3a" stroke-width="1"/><rect x="381.90" y="60.80" width="21.40" height="6.20" fill="#00ffff" stroke="#0a3a3a" stroke-width="1"/>
<rect x="448.3" y="6" width="59" height="11.3" fill="url(#cb)" stroke="#202020" stroke-width="1"/>
<text x="452.8" y="26" text-anchor="middle" class="tk" style="fill:#555">-0.3</text>
<text x="477.9" y="26" text-anchor="middle" class="tk" style="fill:#555">0</text>
<text x="509.8" y="26" text-anchor="middle" class="tk" style="fill:#555">0.3</text>
<text transform="translate(392.0 127.3) scale(1.072 1)" class="lb">No Improvement</text>
<text transform="translate(396.4 258.4) scale(1.075 1)" class="lb">Improvement</text>
<text transform="translate(400.5 276.9) scale(1.075 1)" class="lb">or Response</text>
</svg>
</body></html>
